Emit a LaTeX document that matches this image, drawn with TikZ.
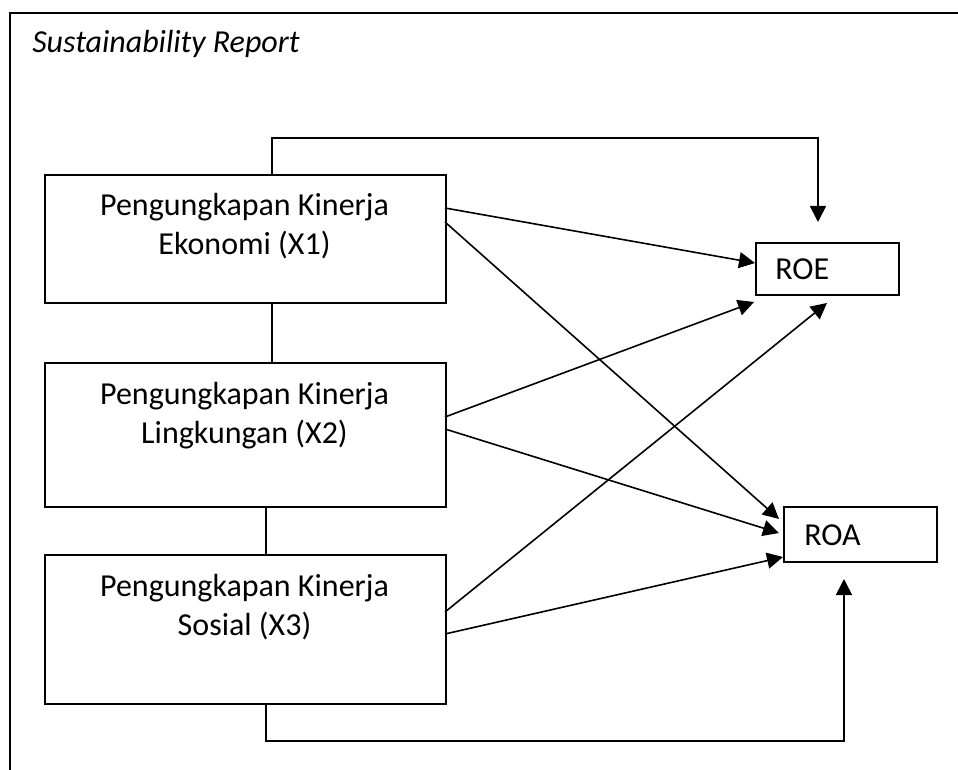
\documentclass[tikz,border=0pt]{standalone}
\usepackage{fontspec}
\setmainfont{Carlito}
\usetikzlibrary{arrows.meta}
\begin{document}
\begin{tikzpicture}[x=0.75pt,y=-0.75pt,
  frame/.style={line width=1.6pt},
  box/.style={draw, line width=1.2pt, inner sep=0pt, anchor=north west},
  txt/.style={font=\fontsize{24}{29.25}\selectfont, align=center, anchor=base, inner sep=0pt},
  link/.style={line width=1.2pt},
  arr/.style={line width=1.2pt, -{Triangle[length=12pt,width=12pt]}}]
\useasboundingbox (0,0) rectangle (958,770);
\fill[white] (0,0) rectangle (958,770);
\draw[frame] (959,13) -- (10,13) -- (10,771);
\node[txt, anchor=base west, font=\fontsize{24}{29.25}\selectfont\itshape] (title) at (32,53) {Sustainability Report};

% boxes
\node[box, minimum width=300.75pt, minimum height=96pt] (x1) at (44,174) {};
\node[box, minimum width=300.75pt, minimum height=108pt] (x2) at (44,362) {};
\node[box, minimum width=300.75pt, minimum height=111.75pt] (x3) at (44,554) {};
\node[box, minimum width=107.25pt, minimum height=39pt] (roe) at (755,242) {};
\node[box, minimum width=114.75pt, minimum height=41.25pt] (roa) at (783,506) {};

% texts (base = baseline of the last line)
\node[txt] (t1) at (244.5,255) {Pengungkapan Kinerja\\Ekonomi (X1)};
\node[txt] (t2) at (244.5,443) {Pengungkapan Kinerja\\Lingkungan (X2)};
\node[txt] (t3) at (244.5,635) {Pengungkapan Kinerja\\Sosial (X3)};
\node[txt, anchor=base west] (troe) at (775,280) {ROE};
\node[txt, anchor=base west] (troa) at (804,545) {ROA};

% coordinates
\coordinate (c12a) at (272,302); \coordinate (c12b) at (272,362);
\coordinate (c23a) at (266,506); \coordinate (c23b) at (266,554);
\coordinate (topa) at (272,174); \coordinate (topb) at (272,138);
\coordinate (topc) at (818,138); \coordinate (topt) at (818,222);
\coordinate (bota) at (266,703); \coordinate (botb) at (266,741);
\coordinate (botc) at (844,741); \coordinate (bott) at (844,579);

\coordinate (s1e) at (445,208); \coordinate (s1a) at (445,222);
\coordinate (s2e) at (445,417); \coordinate (s2a) at (445,429);
\coordinate (s3e) at (445,612); \coordinate (s3a) at (445,634);
\coordinate (e1) at (755,263); \coordinate (e2) at (754,302); \coordinate (e3) at (827,303);
\coordinate (a1) at (779,519); \coordinate (a2) at (779,533); \coordinate (a3) at (783,557);

\draw[link] (c12a) -- (c12b);
\draw[link] (c23a) -- (c23b);
\draw[arr] (topa) -- (topb) -- (topc) -- (topt);
\draw[arr] (bota) -- (botb) -- (botc) -- (bott);

\draw[arr] (s1e) -- (e1);
\draw[arr] (s1a) -- (a1);
\draw[arr] (s2e) -- (e2);
\draw[arr] (s2a) -- (a2);
\draw[arr] (s3e) -- (e3);
\draw[arr] (s3a) -- (a3);
\end{tikzpicture}
\end{document}
